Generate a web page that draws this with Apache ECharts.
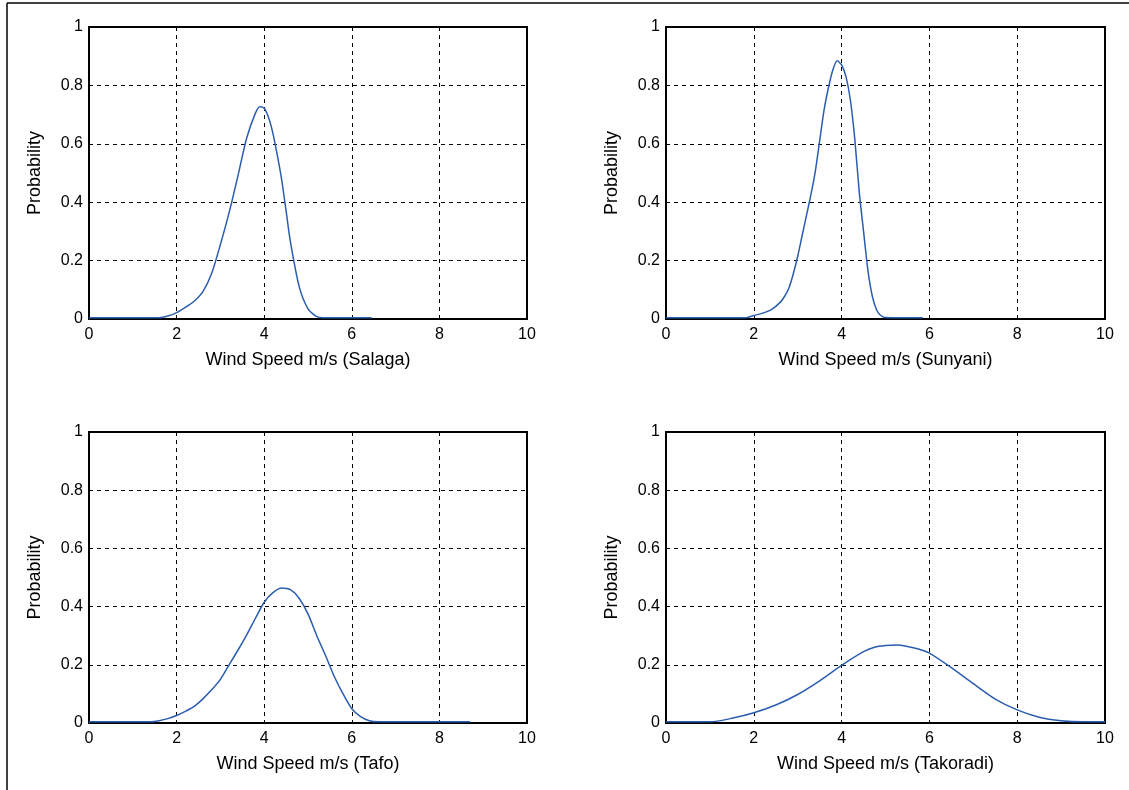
<!DOCTYPE html>
<html>
<head>
<meta charset="utf-8">
<script src="https://cdn.jsdelivr.net/npm/echarts@6/dist/echarts.min.js"></script>
<style>
html,body{margin:0;padding:0;background:#fff;}
#chart{width:1129px;height:790px;}
</style>
</head>
<body>
<div id="chart"></div>
<script>
// Station names (x-axis labels)
const stations = ['Salaga', 'Sunyani', 'Tafo', 'Takoradi'];
const xTicks = [0, 2, 4, 6, 8, 10];
const yTicks = [0, 0.2, 0.4, 0.6, 0.8, 1];

// Wind speed (m/s) and probability
const salagaX = [0, 1.6, 1.8, 2.0, 2.2, 2.4, 2.6, 2.8, 3.0, 3.2, 3.4, 3.6, 3.8, 3.9, 4.0, 4.1, 4.2, 4.3, 4.4, 4.5, 4.6, 4.8, 5.0, 5.2, 5.4, 6.45];
const salagaY = [0.004, 0.004, 0.01, 0.022, 0.04, 0.061, 0.094, 0.156, 0.255, 0.365, 0.49, 0.62, 0.705, 0.727, 0.722, 0.69, 0.635, 0.56, 0.476, 0.37, 0.263, 0.11, 0.035, 0.008, 0.004, 0.004];

const sunyaniX = [0, 1.8, 2.0, 2.2, 2.4, 2.6, 2.7, 2.8, 2.9, 3.0, 3.1, 3.2, 3.3, 3.4, 3.5, 3.6, 3.7, 3.8, 3.9, 4.0, 4.1, 4.2, 4.3, 4.4, 4.5, 4.6, 4.7, 4.8, 4.9, 5.0, 5.85];
const sunyaniY = [0.004, 0.004, 0.012, 0.02, 0.032, 0.057, 0.077, 0.106, 0.155, 0.215, 0.285, 0.355, 0.425, 0.505, 0.61, 0.715, 0.792, 0.853, 0.884, 0.87, 0.83, 0.75, 0.617, 0.438, 0.30, 0.166, 0.078, 0.03, 0.011, 0.005, 0.004];

const tafoX = [0, 1.4, 1.6, 1.8, 2.0, 2.2, 2.4, 2.6, 2.8, 3.0, 3.2, 3.4, 3.6, 3.8, 4.0, 4.2, 4.4, 4.6, 4.8, 5.0, 5.2, 5.4, 5.6, 5.8, 6.0, 6.2, 6.4, 6.6, 8.7];
const tafoY = [0.004, 0.004, 0.008, 0.015, 0.026, 0.04, 0.057, 0.083, 0.114, 0.15, 0.20, 0.25, 0.303, 0.36, 0.415, 0.448, 0.464, 0.458, 0.428, 0.375, 0.30, 0.232, 0.16, 0.10, 0.049, 0.022, 0.008, 0.004, 0.004];

const takoradiX = [0, 1.0, 1.5, 2.0, 2.5, 3.0, 3.5, 4.0, 4.5, 4.75, 5.0, 5.25, 5.5, 5.75, 6.0, 6.5, 7.0, 7.5, 8.0, 8.5, 9.0, 9.5, 10];
const takoradiY = [0.004, 0.004, 0.016, 0.035, 0.062, 0.098, 0.145, 0.198, 0.245, 0.26, 0.266, 0.268, 0.263, 0.254, 0.24, 0.19, 0.135, 0.082, 0.045, 0.02, 0.008, 0.004, 0.004];

const seriesX = [salagaX, sunyaniX, tafoX, takoradiX];
const seriesY = [salagaY, sunyaniY, tafoY, takoradiY];

const FONT = '"Liberation Sans", Arial, Helvetica, sans-serif';
const grids = [
  {left: 89, top: 27, width: 438, height: 292},
  {left: 666, top: 27, width: 439, height: 292},
  {left: 89, top: 432, width: 438, height: 291},
  {left: 666, top: 432, width: 439, height: 291}
];

const option = {
  backgroundColor: '#ffffff',
  animation: false,
  grid: grids.map(g => Object.assign({show: true, borderColor: '#000', borderWidth: 2, backgroundColor: 'transparent'}, g)),
  xAxis: stations.map((s, i) => ({
    type: 'value', gridIndex: i, min: xTicks[0], max: xTicks[xTicks.length - 1], interval: 2,
    name: 'Wind Speed m/s (' + s + ')', nameLocation: 'middle', nameGap: 32,
    nameTextStyle: {fontFamily: FONT, fontSize: 18, color: '#000'},
    axisLine: {show: true, lineStyle: {color: '#000', width: 2}},
    axisTick: {show: false},
    axisLabel: {fontFamily: FONT, fontSize: 16, color: '#000', margin: 8},
    splitLine: {show: true, lineStyle: {color: '#000', width: 1, type: [4, 4]}}
  })),
  yAxis: stations.map((s, i) => ({
    type: 'value', gridIndex: i, min: yTicks[0], max: yTicks[yTicks.length - 1], interval: 0.2,
    name: 'Probability', nameLocation: 'middle', nameGap: 45, nameRotate: 90,
    nameTextStyle: {fontFamily: FONT, fontSize: 18, color: '#000'},
    axisLine: {show: true, lineStyle: {color: '#000', width: 2}},
    axisTick: {show: false},
    axisLabel: {fontFamily: FONT, fontSize: 16, color: '#000', margin: 6,
      formatter: v => String(Math.round(v * 10) / 10)},
    splitLine: {show: true, lineStyle: {color: '#000', width: 1, type: [4, 4]}}
  })),
  series: stations.map((s, i) => ({
    type: 'line', name: s, xAxisIndex: i, yAxisIndex: i,
    data: seriesX[i].map((x, k) => [x, seriesY[i][k]]),
    smooth: 0.25, showSymbol: false, symbol: 'none',
    lineStyle: {color: '#2a5db0', width: 1.5},
    z: 5
  })),
  graphic: [
    {type: 'line', shape: {x1: 7, y1: 3, x2: 1129, y2: 3}, style: {stroke: '#000', lineWidth: 1.5}},
    {type: 'line', shape: {x1: 7, y1: 3, x2: 7, y2: 790}, style: {stroke: '#000', lineWidth: 1.5}}
  ]
};

const chart = echarts.init(document.getElementById('chart'), null, {renderer: 'canvas'});
chart.setOption(option);
</script>
</body>
</html>
